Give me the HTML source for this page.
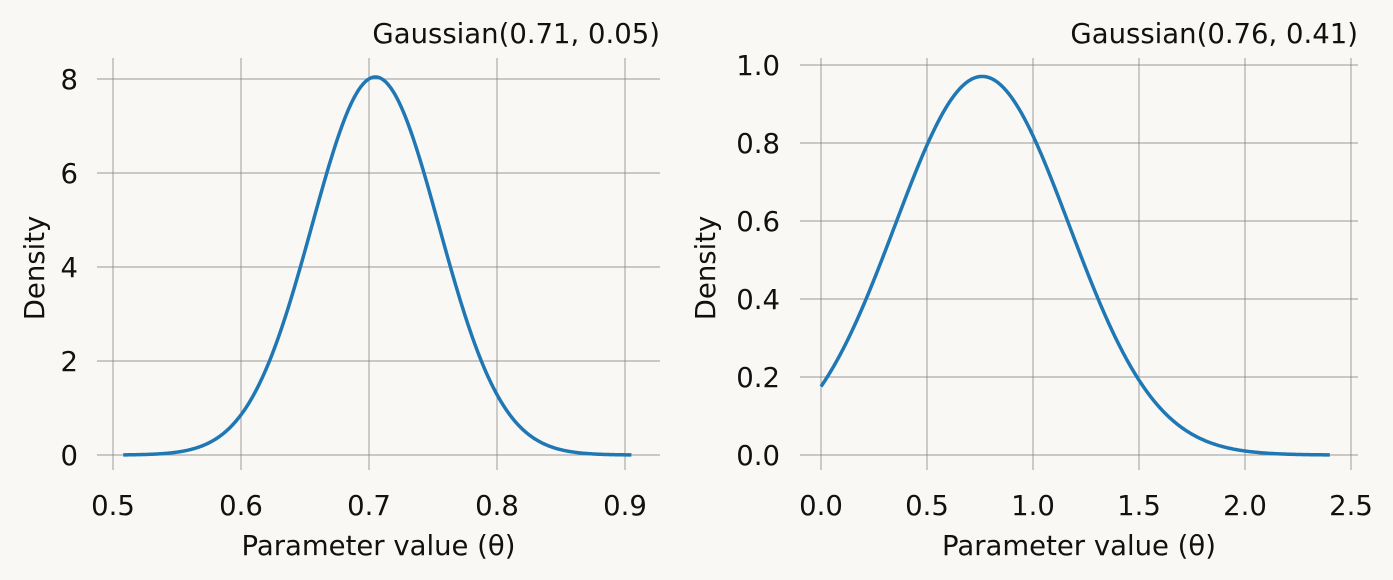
<!DOCTYPE html>
<html><head><meta charset="utf-8"><style>
html,body{margin:0;padding:0;background:#f9f8f5;}
svg{display:block;font-family:"DejaVu Sans","Liberation Sans",sans-serif;}
</style></head><body>
<svg id="s" width="1393" height="580" viewBox="0 0 1393 580" xmlns="http://www.w3.org/2000/svg">
<rect width="1393" height="580" fill="#f9f8f5"/>
<g id="g"></g>
</svg>
<script>
var g=document.getElementById('g'),h='';
function L(x1,y1,x2,y2){h+='<line x1="'+x1+'" y1="'+y1+'" x2="'+x2+'" y2="'+y2+'" stroke="#777" stroke-width="0.7"/>';}
function T(x,y,t,a,extra){h+='<text x="'+x+'" y="'+y+'" font-size="27.5" fill="#111" text-anchor="'+(a||'middle')+'" '+(extra||'')+'>'+t+'</text>';}
function plot(o){
  o.xt.forEach(function(v){var x=o.x0+(v-o.xv0)*o.sx;L(x,58,x,470);T(x,515,v.toFixed(1));});
  o.yt.forEach(function(v){var y=455-v*o.sy;L(o.ax0,y,o.ax1,y);T(o.ylx,y+10,o.yf(v),'end');});
  var d='';for(var i=0;i<=400;i++){var t=o.a+(o.b-o.a)*i/400;var p=Math.exp(-0.5*Math.pow((t-o.mu)/o.sd,2))/(o.sd*Math.sqrt(2*Math.PI));
  d+=(i?'L':'M')+(o.x0+(t-o.xv0)*o.sx).toFixed(2)+' '+(455-p*o.sy).toFixed(2);}
  h+='<path d="'+d+'" fill="none" stroke="#1f77b4" stroke-width="3.5"/>';
  T(o.ax1,43,o.title,'end');
  T((o.ax0+o.ax1)/2,555,'Parameter value (θ)');
  T(0,0,'Density','middle','transform="translate('+o.dx+',268) rotate(-90)"');
}
plot({x0:113,xv0:0.5,sx:1280,sy:47,ax0:97,ax1:660,xt:[0.5,0.6,0.7,0.8,0.9],yt:[0,2,4,6,8],ylx:78,yf:function(v){return v;},
 a:0.508,b:0.905,mu:0.705,sd:0.0496,title:'Gaussian(0.71, 0.05)',dx:44});
plot({x0:821,xv0:0,sx:212,sy:390,ax0:800,ax1:1358,xt:[0,0.5,1,1.5,2,2.5],yt:[0,0.2,0.4,0.6,0.8,1.0],ylx:780,yf:function(v){return v.toFixed(1);},
 a:0,b:2.4,mu:0.76,sd:0.411,title:'Gaussian(0.76, 0.41)',dx:715});
g.innerHTML=h;
</script>
</body></html>
